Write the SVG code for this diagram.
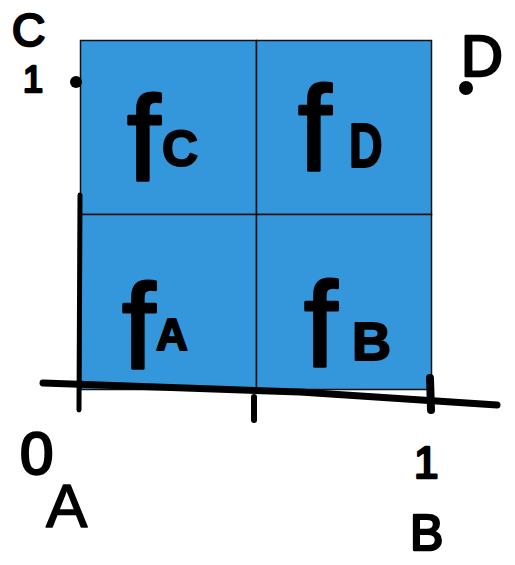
<svg xmlns="http://www.w3.org/2000/svg" width="515" height="565" viewBox="0 0 515 565">
<style>
.cell{fill:#3597db;stroke:#111;stroke-width:1.5}
.hand{font-family:"Liberation Sans",Arial,sans-serif;fill:#000;stroke:#000;stroke-linejoin:round}
.f{font-size:120px;stroke-width:3}
.sub{font-weight:bold;stroke-width:2}
.lbl{stroke-width:2.5}
.ax{stroke:#000;stroke-linecap:round;fill:none}
</style>
<rect width="515" height="565" fill="#fff"/>
<g id="cells">
<rect id="cellC" class="cell" x="80.5" y="40.5" width="176" height="174"/>
<rect id="cellD" class="cell" x="256.5" y="40.5" width="175" height="174"/>
<rect id="cellA" class="cell" x="80.5" y="214.5" width="176" height="175"/>
<rect id="cellB" class="cell" x="256.5" y="214.5" width="175" height="175"/>
</g>
<g id="connectors">
<path class="ax" d="M43 383 L300 392 L497 405" stroke-width="7"/>
<path class="ax" d="M80 195 L79 410" stroke-width="5"/>
<path class="ax" d="M254 397 L254 420" stroke-width="6"/>
<path class="ax" d="M430 378 L431 410" stroke-width="8"/>
<circle cx="76" cy="82" r="6" fill="#000"/>
</g>
<g id="labelC"><text class="hand f" x="127" y="180">f</text><text class="hand sub" x="162" y="166" style="font-size:50px">C</text></g>
<g id="labelD"><text class="hand f" x="298" y="170">f</text><text class="hand sub" x="349" y="167" style="font-size:62px" transform="translate(349 0) scale(0.75 1) translate(-349 0)">D</text></g>
<g id="labelA"><text class="hand f" x="122" y="368">f</text><text class="hand sub" x="156" y="350" style="font-size:44px">A</text></g>
<g id="labelB"><text class="hand f" x="304" y="366">f</text><text class="hand sub" x="352" y="360" style="font-size:54px">B</text></g>
<g id="corners">
<text class="hand lbl" x="12" y="46" style="font-size:46px">C</text>
<text class="hand lbl" x="23" y="92" style="font-size:36px">1</text>
<text class="hand lbl" x="461" y="76" style="font-size:58px">D</text>
<circle cx="466" cy="88" r="7" fill="#000"/>
<text class="hand lbl" x="20" y="474" style="font-size:60px">0</text>
<text class="hand lbl" x="46" y="527" style="font-size:62px;stroke-width:1.5">A</text>
<text class="hand lbl" x="414" y="478" style="font-size:44px">1</text>
<text class="hand lbl" x="410" y="550" style="font-size:50px">B</text>
</g>
</svg>
